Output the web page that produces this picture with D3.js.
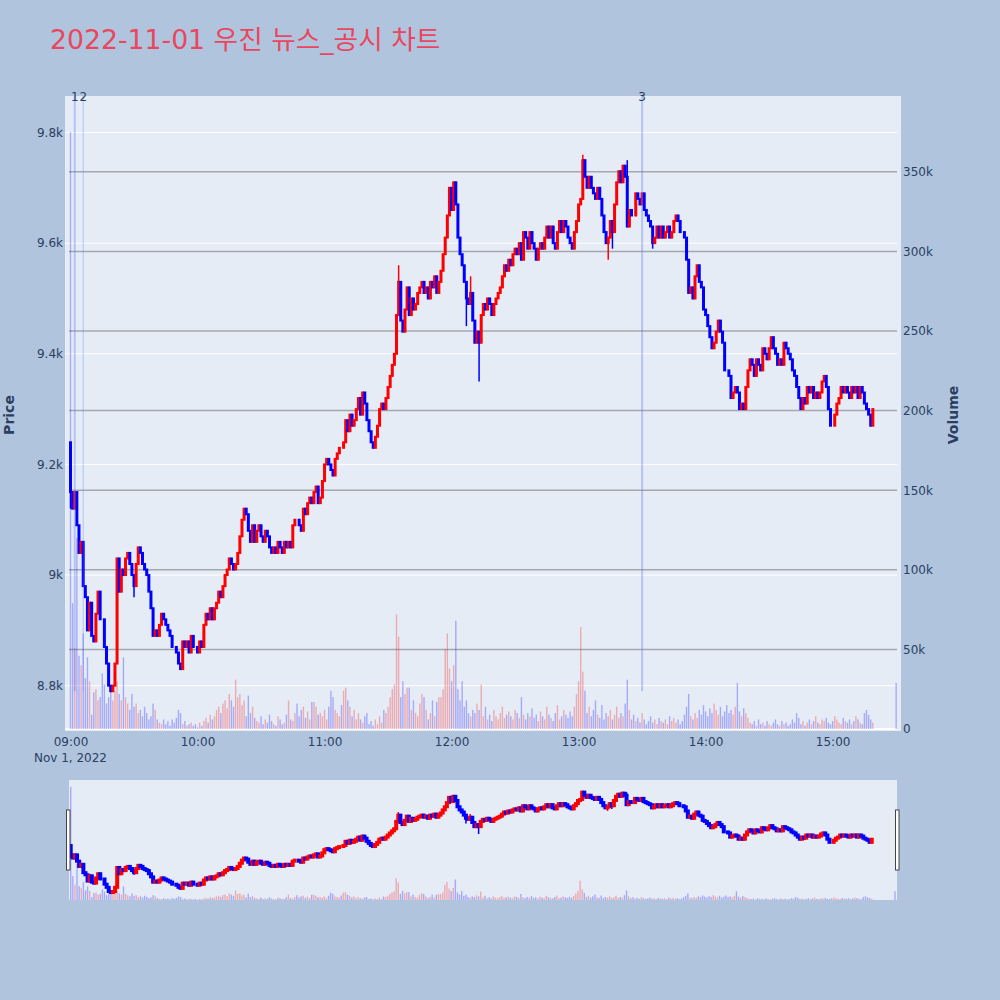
<!DOCTYPE html>
<html><head><meta charset="utf-8">
<script src="https://cdn.jsdelivr.net/npm/d3@7"></script>
<style>
body{margin:0;background:#b0c4de;}
svg{display:block;font-family:"DejaVu Sans","Noto Sans CJK KR",sans-serif;}
</style>
</head><body>
<svg id="c" width="1000" height="1000"></svg>
<script>
// ---------------- DATA ----------------
const titleText = "2022-11-01 우진 뉴스_공시 차트";
const sessionStart = "2022-11-01T09:00:00";   // first one-minute candle
const firstOpen = 9240;
const closes = [
9150,9120,9150,9090,9040,9060,8980,8960,8900,8950,
8890,8880,8930,8970,8920,8920,8870,8840,8800,8790,
8800,8840,9030,8970,9010,9000,9030,9040,9020,9000,
8980,9020,9050,9040,9020,9010,9000,8970,8940,8890,
8900,8890,8910,8930,8920,8910,8900,8890,8870,8870,
8860,8840,8830,8880,8870,8880,8860,8890,8870,8870,
8860,8880,8870,8910,8930,8920,
8940,8920,8940,8950,8970,8960,8980,9000,9010,9030,
9020,9010,9020,9040,9070,9100,9120,9110,9080,9060,
9090,9060,9080,9090,9070,9060,9080,9070,9050,9040,
9050,9040,9060,9050,9040,9060,9050,9060,9050,9090,
9100,9100,9090,9080,9120,9110,9130,9140,9130,9150,
9160,9130,9140,9170,9200,9210,9200,9190,9180,9210,
9220,9230,9230,9240,
9280,9260,9290,9270,9280,9300,9320,9290,9330,9310,
9280,9260,9240,9230,9250,9270,9300,9310,9300,9320,
9340,9360,9380,9400,9470,9530,9460,9440,9480,9520,
9470,9500,9480,9490,9510,9520,9530,9510,9520,9500,
9530,9520,9540,9510,9530,9550,9580,9610,9650,9700,
9660,9710,9670,9610,9580,9560,9530,9500,9490,9510,
9460,9420,9440,9420,9470,9490,9480,9500,9490,
9470,9490,9500,9510,9520,9540,9560,9550,9570,9560,
9580,9590,9580,9600,9570,9620,9610,9590,9620,9600,
9590,9570,9590,9600,9590,9610,9630,9610,9630,9600,
9590,9620,9640,9620,9640,9630,9610,9600,9590,9620,
9640,9670,9680,9750,9720,9700,9720,9700,9690,9680,
9700,9680,9650,9620,9600,9610,9640,9620,9670,9710,
9730,9710,9740,9720,9630,9660,9650,
9650,9690,9680,9670,9690,9660,9650,9640,9630,9600,
9610,9630,9610,9630,9610,9620,9630,9610,9620,9640,
9650,9640,9620,9620,9610,9570,9510,9520,9500,9540,
9560,9530,9520,9480,9470,9450,9430,9410,9420,9440,
9460,9440,9420,9370,9370,9360,9320,9330,9340,9330,
9300,9310,9300,9340,9370,9390,9380,9360,9390,9380,
9370,9410,9400,
9390,9410,9430,9410,9400,9380,9390,9380,9420,9410,
9400,9390,9370,9360,9340,9320,9300,9320,9310,9340,
9330,9340,9320,9330,9320,9330,9350,9360,9340,9300,
9270,9270,9290,9310,9320,9340,9330,9340,9330,9320,
9340,9330,9340,9320,9340,9330,9310,9300,9290,9270,
9300
];
// volume per minute, thousands of shares
const volumesK = [
375,79,51,120,46,40,60,32,45,30,9,23,25,18,20,35,28,16,20,25,
18,24,30,22,18,45,20,16,12,22,14,16,10,12,8,14,10,6,8,16,
12,6,4,3,6,3,5,2,6,4,7,12,10,3,5,2,3,4,2,3,
1,4,2,5,7,4,9,6,8,12,14,10,16,18,13,22,18,14,31,20,
22,15,18,8,21,10,14,7,5,4,8,3,6,4,9,5,3,2,8,6,
3,4,9,18,6,5,10,16,8,12,14,7,11,6,17,17,14,9,10,8,
12,6,14,24,20,12,10,8,15,24,26,18,14,8,12,6,10,6,4,8,
10,3,5,2,6,3,8,4,12,10,14,20,25,28,72,58,20,30,22,26,
26,12,18,10,8,16,22,20,12,6,10,18,8,17,20,20,25,50,60,38,
30,40,68,25,18,30,14,18,10,8,12,10,16,12,28,8,14,6,9,5,
12,8,6,10,14,7,9,11,8,6,12,10,7,20,9,6,10,8,13,7,
9,5,11,8,6,14,9,7,5,10,15,6,8,12,9,7,11,8,14,22,
30,64,36,24,10,14,8,12,18,9,7,15,6,10,8,12,6,9,14,7,
10,8,16,31,12,6,9,5,7,4,10,6,3,5,8,4,6,3,7,5,
4,6,3,8,5,7,4,6,3,5,9,14,22,8,6,10,7,12,9,15,
11,8,13,10,16,12,9,14,8,11,15,10,12,9,14,29,11,8,13,10,
7,4,3,5,2,6,3,4,2,5,3,2,4,6,3,2,5,3,4,2,
3,6,4,10,7,3,5,2,4,6,3,5,8,4,3,6,5,7,4,3,
5,8,6,4,3,7,5,4,6,3,5,8,6,4,3,10,12,9,6,4
];
// long wicks (candle index, high, low)
const wickIdx  = [0,    30,   155,  187,  189,  193,  242,  254,  256,  263,  275];
const wickHigh = [9240, null, 9560, null, 9540, null, 9760, null, null, 9750, null];
const wickLow  = [9120, 8960, null, 9450, null, 9350, null, 9570, 9590, null, 9590];
// closing auction
const auctionTime = "2022-11-01T15:30:00";
const auctionPrice = 9300;
const auctionVolumeK = 29;
// news markers
const newsTimes  = ["2022-11-01T09:02:00","2022-11-01T09:06:00","2022-11-01T13:30:00"];
const newsLabels = ["1","2","3"];
// axes
const priceTicks = [8800,9000,9200,9400,9600,9800];
const priceTickLabels = ["8.8k","9k","9.2k","9.4k","9.6k","9.8k"];
const volTicks = [0,50000,100000,150000,200000,250000,300000,350000];
const volTickLabels = ["0","50k","100k","150k","200k","250k","300k","350k"];
const timeTicks = ["09:00","10:00","11:00","12:00","13:00","14:00","15:00"];
const dateLabel = "Nov 1, 2022";

// ---------------- BUILD ----------------
const parse = d3.timeParse("%Y-%m-%dT%H:%M:%S");
const t0 = parse(sessionStart);
const rows = closes.map((c,i)=>{
  const o = i===0 ? firstOpen : closes[i-1];
  return {t:d3.timeMinute.offset(t0,i), o, c, h:Math.max(o,c), l:Math.min(o,c), v:volumesK[i]*1000};
});
wickIdx.forEach((k,j)=>{
  if(wickHigh[j]!=null) rows[k].h=Math.max(rows[k].h,wickHigh[j]);
  if(wickLow[j]!=null) rows[k].l=Math.min(rows[k].l,wickLow[j]);
});
rows.push({t:parse(auctionTime), o:auctionPrice, c:auctionPrice, h:auctionPrice, l:auctionPrice, v:auctionVolumeK*1000});
const up = d=>d.c>d.o;
const minLow = d3.min(rows,d=>d.l);

const svg = d3.select("#c");
const TXT = "#2a3f5f";
const L=65, R=901, T=96, B=731;

const x = d3.scaleTime().domain([parse("2022-11-01T08:57:24"),parse("2022-11-01T15:32:18")]).range([L,R]);
const y = d3.scaleLinear().domain([8719,9866]).range([730.5,T]);
const yv = d3.scaleLinear().domain([0,397600]).range([729,T]);

svg.append("rect").attr("width",1000).attr("height",1000).attr("fill","#b0c4de");
svg.append("rect").attr("x",L).attr("y",T).attr("width",R-L).attr("height",B-T).attr("fill","#e5ecf6");

svg.append("text").attr("x",50).attr("y",49).attr("font-size",26.7).attr("fill","#e8475f").text(titleText);

// grids
svg.append("g").selectAll("line").data(priceTicks).join("line")
  .attr("x1",L).attr("x2",897).attr("y1",d=>y(d)).attr("y2",d=>y(d))
  .attr("stroke","#fff").attr("stroke-width",1);
svg.append("g").selectAll("line").data(volTicks.filter(d=>d>0)).join("line")
  .attr("x1",69).attr("x2",897).attr("y1",d=>yv(d)).attr("y2",d=>yv(d))
  .attr("stroke","#a4a8ae").attr("stroke-width",1.5);
svg.append("line").attr("x1",L).attr("x2",897).attr("y1",yv(0)).attr("y2",yv(0)).attr("stroke","#fff").attr("stroke-width",2);

svg.append("clipPath").attr("id","pc").append("rect").attr("x",L).attr("y",T).attr("width",R-L).attr("height",B-T);
const plot = svg.append("g").attr("clip-path","url(#pc)");

const bw = 1.4;
plot.append("g").selectAll("rect").data(rows).join("rect")
  .attr("x",d=>x(d.t)-bw/2).attr("width",bw)
  .attr("y",d=>yv(d.v)).attr("height",d=>yv(0)-yv(d.v))
  .attr("fill",d=>up(d)?"rgba(255,0,0,0.28)":"rgba(0,0,255,0.28)");

function candles(g, xs, ys, wickW, bodyW, strokeW){
  g.append("g").selectAll("line").data(rows).join("line")
    .attr("x1",d=>xs(d.t)).attr("x2",d=>xs(d.t))
    .attr("y1",d=>ys(d.h)).attr("y2",d=>ys(d.l))
    .attr("stroke",d=>up(d)?"#ff0000":"#0000ff").attr("stroke-width",wickW);
  g.append("g").selectAll("rect").data(rows).join("rect")
    .attr("x",d=>xs(d.t)-bodyW/2).attr("width",bodyW)
    .attr("y",d=>ys(Math.max(d.o,d.c))).attr("height",d=>Math.abs(ys(d.o)-ys(d.c)))
    .attr("fill",d=>up(d)?"#ff0000":"#0000ff")
    .attr("stroke",d=>up(d)?"#ff0000":"#0000ff").attr("stroke-width",strokeW);
}
candles(plot, x, y, 1.5, 1.0, 2);

// news lines
const nl = svg.append("g");
newsTimes.forEach((s,i)=>{
  const xx = x(parse(s));
  nl.append("line").attr("x1",xx).attr("x2",xx).attr("y1",T).attr("y2",y(minLow))
    .attr("stroke","rgba(90,120,240,0.35)").attr("stroke-width",i===1?1:2);
  nl.append("text").attr("x",xx).attr("y",101).attr("text-anchor","middle")
    .attr("font-size",12).attr("fill",TXT).text(newsLabels[i]);
});

// axes
const axL = svg.append("g").attr("transform",`translate(${L},0)`)
  .call(d3.axisLeft(y).tickValues(priceTicks).tickFormat((d,i)=>priceTickLabels[i]).tickSize(0).tickPadding(2));
const axR = svg.append("g").attr("transform",`translate(897,0)`)
  .call(d3.axisRight(yv).tickValues(volTicks).tickFormat((d,i)=>volTickLabels[i]).tickSize(0).tickPadding(6));
const tt = timeTicks.map(s=>parse(`2022-11-01T${s}:00`));
const axB = svg.append("g").attr("transform",`translate(0,730)`)
  .call(d3.axisBottom(x).tickValues(tt).tickFormat((d,i)=>timeTicks[i]).tickSize(0).tickPadding(7));
[axL,axR,axB].forEach(a=>{
  a.select(".domain").remove();
  a.selectAll("text").attr("font-size",12).attr("fill",TXT).attr("font-family",'"DejaVu Sans",sans-serif');
});
svg.append("text").attr("x",x(tt[0])).attr("y",762).attr("text-anchor","middle")
  .attr("font-size",12).attr("fill",TXT).text(dateLabel);

svg.append("text").attr("transform","translate(14,415) rotate(-90)").attr("text-anchor","middle")
  .attr("font-size",14).attr("font-weight","bold").attr("fill",TXT).text("Price");
svg.append("text").attr("transform","translate(958,415) rotate(-90)").attr("text-anchor","middle")
  .attr("font-size",14).attr("font-weight","bold").attr("fill",TXT).text("Volume");

// range slider
const SL=69, SR=897, ST=780, SB=900;
const xs = d3.scaleTime().domain([parse("2022-11-01T08:59:12"),parse("2022-11-01T15:30:57")]).range([SL,SR]);
const ys = d3.scaleLinear().domain([8719,9866]).range([SB,ST]);
const yvs = d3.scaleLinear().domain([0,397600]).range([SB,ST]);
svg.append("rect").attr("x",SL).attr("y",ST).attr("width",SR-SL).attr("height",SB-ST).attr("fill","#e5ecf6");
const sg = svg.append("g");
sg.append("g").selectAll("rect").data(rows).join("rect")
  .attr("x",d=>xs(d.t)-0.7).attr("width",1.4)
  .attr("y",d=>yvs(d.v)).attr("height",d=>SB-yvs(d.v))
  .attr("fill",d=>up(d)?"rgba(255,0,0,0.28)":"rgba(0,0,255,0.28)");
candles(sg, xs, ys, 1.5, 1.0, 3);
[[66.5],[895.5]].forEach(([hx])=>{
  svg.append("rect").attr("x",hx).attr("y",810).attr("width",3.5).attr("height",60)
    .attr("fill","#fff").attr("stroke","#444").attr("stroke-width",1);
});
</script>
</body></html>
